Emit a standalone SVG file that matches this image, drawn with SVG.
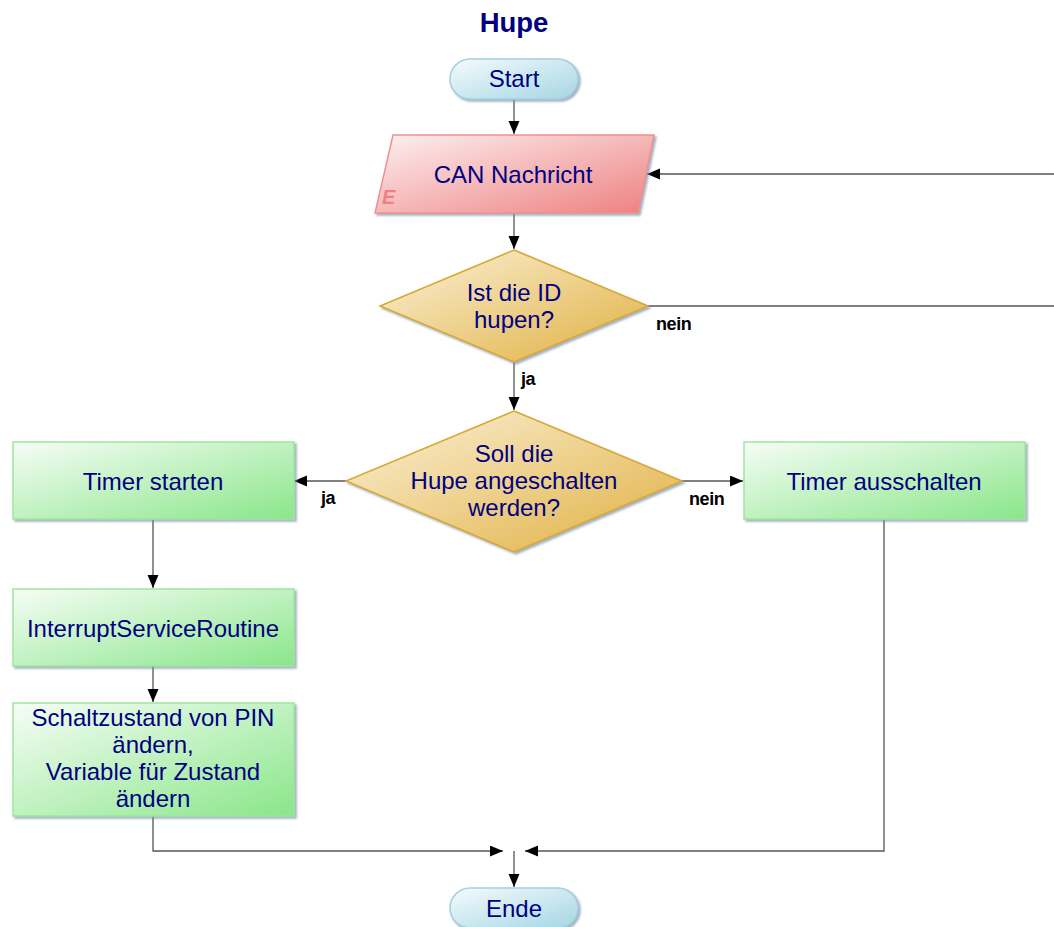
<svg xmlns="http://www.w3.org/2000/svg" width="1054" height="927" viewBox="0 0 1054 927">
<defs>
<linearGradient id="gTerm" x1="0" y1="0" x2="1" y2="1"><stop offset="0" stop-color="#f4fbfd"/><stop offset="1" stop-color="#a6d6e4"/></linearGradient>
<linearGradient id="gIO" x1="0" y1="0" x2="1" y2="1"><stop offset="0" stop-color="#fdf0f0"/><stop offset="1" stop-color="#ee8080"/></linearGradient>
<linearGradient id="gDec" x1="0" y1="0" x2="1" y2="1"><stop offset="0" stop-color="#fbf1d8"/><stop offset="1" stop-color="#e0b040"/></linearGradient>
<linearGradient id="gProc" x1="0" y1="0" x2="1" y2="1"><stop offset="0" stop-color="#f6fdf6"/><stop offset="1" stop-color="#8ae68a"/></linearGradient>
<filter id="sh" x="-5%" y="-5%" width="115%" height="120%"><feDropShadow dx="2" dy="2" stdDeviation="0.8" flood-color="#7a90a4" flood-opacity="0.7"/></filter>
<marker id="ah" markerUnits="userSpaceOnUse" markerWidth="14" markerHeight="12" refX="13" refY="5.5" orient="auto"><path d="M0,0 L13,5.5 L0,11 z" fill="#000"/></marker>
<style>
.t{font-family:"Liberation Sans",Arial,sans-serif;font-size:24px;fill:#00007f;text-anchor:middle}
.lbl{font-family:"Liberation Sans",Arial,sans-serif;font-size:18px;font-weight:bold;fill:#000;letter-spacing:-0.4px}
.c{fill:none;stroke:#555;stroke-width:1.3}
.term{fill:url(#gTerm);stroke:#a4d0de;stroke-width:1.5;filter:url(#sh)}
.io{fill:url(#gIO);stroke:#f09090;stroke-width:1.5;filter:url(#sh)}
.dec{fill:url(#gDec);stroke:#d8a830;stroke-width:1.5;filter:url(#sh)}
.proc{fill:url(#gProc);stroke:#9ee69e;stroke-width:1.5;filter:url(#sh)}
</style>
</defs>
<rect width="1054" height="927" fill="#fff"/>
<text x="514" y="32" style="font-family:'Liberation Sans',Arial,sans-serif;font-size:27.5px;font-weight:bold;fill:#00007f;text-anchor:middle">Hupe</text>

<g id="connectors">
<path class="c" d="M514 99 V134" marker-end="url(#ah)"/>
<path class="c" d="M514 213 V249" marker-end="url(#ah)"/>
<path class="c" d="M514 362 V410" marker-end="url(#ah)"/>
<path class="c" d="M648 306 H1062 V174 H647" marker-end="url(#ah)"/>
<path class="c" d="M346 481 H294" marker-end="url(#ah)"/>
<path class="c" d="M682 481 H743" marker-end="url(#ah)"/>
<path class="c" d="M153 520 V588" marker-end="url(#ah)"/>
<path class="c" d="M153 666 V702" marker-end="url(#ah)"/>
<path class="c" d="M153 816 V851 H503" marker-end="url(#ah)"/>
<path class="c" d="M884 519 V851 H525" marker-end="url(#ah)"/>
<path class="c" d="M514 851 V887" marker-end="url(#ah)"/>
<text class="lbl" x="656" y="330">nein</text>
<text class="lbl" x="521" y="385">ja</text>
<text class="lbl" x="321" y="504">ja</text>
<text class="lbl" x="689" y="505">nein</text>
</g>

<g id="start">
<rect class="term" x="450" y="59" width="128" height="40" rx="20"/>
<text class="t" x="514" y="87">Start</text>
</g>

<g id="can">
<polygon class="io" points="393,135 654,135 638,213 375,213"/>
<text class="t" x="513" y="183">CAN Nachricht</text>
<text x="382" y="204" style="font-family:'Liberation Sans',Arial,sans-serif;font-size:20px;font-weight:bold;font-style:italic;fill:#f08080">E</text>
</g>

<g id="dec1">
<polygon class="dec" points="514,250 648,306 514,362 380,306"/>
<text class="t" x="514" y="301">Ist die ID</text>
<text class="t" x="514" y="328">hupen?</text>
</g>

<g id="dec2">
<polygon class="dec" points="514,411 682,481 514,552 346,481"/>
<text class="t" x="514" y="462">Soll die</text>
<text class="t" x="514" y="489">Hupe angeschalten</text>
<text class="t" x="514" y="516">werden?</text>
</g>

<g id="timerStart">
<rect class="proc" x="13" y="442" width="281" height="77"/>
<text class="t" x="153" y="490">Timer starten</text>
</g>

<g id="timerAus">
<rect class="proc" x="744" y="442" width="281" height="77"/>
<text class="t" x="884" y="490">Timer ausschalten</text>
</g>

<g id="isr">
<rect class="proc" x="13" y="589" width="281" height="77"/>
<text class="t" x="153" y="637">InterruptServiceRoutine</text>
</g>

<g id="schalt">
<rect class="proc" x="13" y="703" width="281" height="113"/>
<text class="t" x="153" y="726">Schaltzustand von PIN</text>
<text class="t" x="153" y="753">ändern,</text>
<text class="t" x="153" y="780">Variable für Zustand</text>
<text class="t" x="153" y="807">ändern</text>
</g>

<g id="ende">
<rect class="term" x="450" y="888" width="128" height="40" rx="20"/>
<text class="t" x="514" y="917">Ende</text>
</g>
</svg>
